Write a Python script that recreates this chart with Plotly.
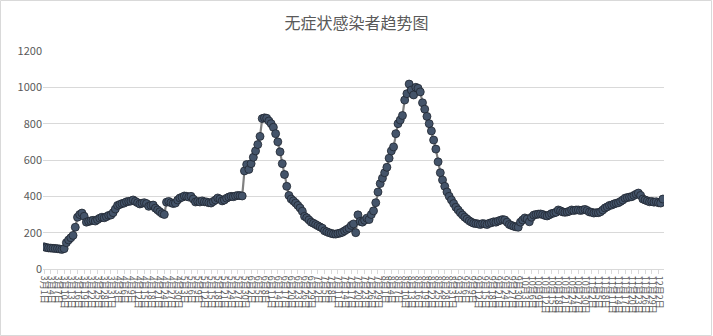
import datetime as dt
import plotly.graph_objects as go

start = dt.date(2022, 3, 1)
n_days = 279
dates = [f"{(start + dt.timedelta(days=i)).month}月{(start + dt.timedelta(days=i)).day}日" for i in range(n_days)]

cases = [
    122, 118, 116, 115, 114, 113, 112, 110, 108, 112,
    145, 160, 172, 185, 230, 285, 300, 308, 290, 258,
    262, 265, 268, 264, 272, 280, 285, 282, 288, 295,
    297, 310, 330, 350, 355, 360, 363, 370, 372, 374,
    380, 372, 365, 358, 362, 365, 360, 345, 350, 352,
    335, 325, 315, 305, 300, 368, 372, 365, 360, 363,
    380, 391, 395, 402, 400, 396, 400, 385, 369, 372,
    369, 375, 370, 369, 365, 363, 372, 380, 391, 385,
    375, 380, 390, 396, 400, 398, 402, 405, 404, 402,
    540, 575, 548, 580, 615, 650, 685, 730, 828, 832,
    830, 815, 800, 780, 745, 700, 645, 580, 520, 455,
    405, 385, 375, 363, 350, 336, 318, 290, 282, 270,
    258, 252, 245, 238, 231, 225, 210, 205, 200, 196,
    193, 192, 195, 198, 202, 210, 218, 225, 240, 248,
    200, 298, 262, 258, 268, 280, 272, 300, 320, 365,
    424, 470, 500, 530, 560, 610, 650, 672, 745, 800,
    820, 845, 930, 965, 1018, 985, 958, 1000, 995, 975,
    915, 880, 840, 800, 760, 710, 660, 590, 530, 490,
    455, 424, 400, 380, 360, 340, 325, 310, 297, 285,
    275, 265, 258, 252, 250, 248, 245, 250, 248, 245,
    252, 255, 260, 258, 264, 268, 272, 270, 258, 245,
    240, 235, 232, 230, 258, 270, 281, 275, 260, 285,
    297, 300, 302, 303, 300, 295, 292, 298, 305, 308,
    312, 325, 320, 314, 312, 314, 318, 325, 322, 325,
    325, 322, 325, 328, 322, 314, 312, 308, 310, 310,
    315, 325, 336, 342, 350, 352, 358, 362, 365, 372,
    380, 390, 393, 396, 398, 405, 412, 418, 405, 385,
    380, 375, 370, 372, 368, 370, 365, 363, 385,
]

title_text = "无症状感染者趋势图"
y_ticks = [0, 200, 400, 600, 800, 1000, 1200]

fig = go.Figure()
fig.add_trace(go.Scatter(
    x=dates, y=cases, mode="lines+markers",
    line=dict(color="#808080", width=2.2),
    marker=dict(size=8, color="#44546A", line=dict(color="#1f2630", width=0.8)),
    showlegend=False,
))

W, H = 713, 336
ml, mr, mt, mb = 43, 49, 51, 67
pw, ph = W - ml - mr, H - mt - mb

fig.update_layout(
    width=W, height=H,
    margin=dict(l=ml, r=mr, t=mt, b=mb),
    paper_bgcolor="white", plot_bgcolor="white",
    title=dict(text=title_text, x=0.5, xanchor="center", y=1 - 23 / H, yanchor="middle",
               font=dict(family="Noto Sans CJK SC", size=16, color="#595959")),
    font=dict(family="Noto Sans CJK SC", color="#595959"),
    xaxis=dict(
        type="category",
        tickmode="array", tickvals=dates[::3], ticktext=dates[::3],
        tickangle=90, tickfont=dict(size=9, color="#595959"),
        ticks="outside", ticklen=4, tickcolor="#d9d9d9",
        showgrid=False, showline=True, linecolor="#d9d9d9", linewidth=1,
        range=[-0.5, n_days - 0.5], automargin=False,
    ),
    yaxis=dict(
        range=[0, 1200], tickvals=y_ticks, showgrid=True, gridcolor="#d9d9d9", gridwidth=1,
        zeroline=False, showline=False, ticks="", tickfont=dict(size=11, color="#595959"),
        automargin=False,
    ),
    shapes=[dict(type="rect", xref="paper", yref="paper",
                 x0=-ml / pw + 0.5 / pw, x1=1 + (mr - 1.5) / pw,
                 y0=-mb / ph + 0.5 / ph, y1=1 + (mt - 0.5) / ph,
                 line=dict(color="#d9d9d9", width=1), fillcolor="rgba(0,0,0,0)", layer="below")],
)

fig.write_html("out.html")
